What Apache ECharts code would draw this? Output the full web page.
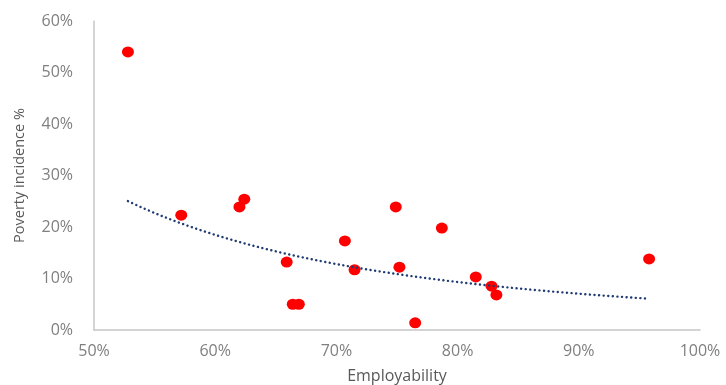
<!DOCTYPE html>
<html>
<head>
<meta charset="utf-8">
<script src="https://cdn.jsdelivr.net/npm/echarts@6/dist/echarts.min.js"></script>
<style>
html,body{margin:0;padding:0;background:#fff;overflow:hidden;}
#chart{width:726px;height:385px;}
</style>
</head>
<body>
<div id="chart"></div>
<script>
// Employability (%) and poverty incidence (%)
var employability = [52.8, 57.2, 62.0, 62.4, 65.9, 66.4, 66.9, 70.7, 71.5, 74.9, 75.2, 76.5, 78.7, 81.5, 82.8, 83.2, 95.8];
var poverty       = [54.0, 22.3, 23.9, 25.4, 13.2,  5.0,  5.0, 17.3, 11.7, 23.9, 12.2,  1.4, 19.8, 10.3,  8.5,  6.8, 13.8];
var xTicks = [50, 60, 70, 80, 90, 100];
var yTicks = [0, 10, 20, 30, 40, 50, 60];

var points = employability.map(function (x, i) { return [x, poverty[i]]; });

// Power trendline (least squares on ln x, ln y), as a spreadsheet trendline does
var n = points.length, mx = 0, my = 0;
points.forEach(function (p) { mx += Math.log(p[0]); my += Math.log(p[1]); });
mx /= n; my /= n;
var sxy = 0, sxx = 0;
points.forEach(function (p) {
  var dx = Math.log(p[0]) - mx, dy = Math.log(p[1]) - my;
  sxy += dx * dy; sxx += dx * dx;
});
var b = sxy / sxx, lnA = my - b * mx;
var xmin = Math.min.apply(null, employability), xmax = Math.max.apply(null, employability);
var trend = [];
var steps = 60;
for (var k = 0; k <= steps; k++) {
  var xv = xmin + (xmax - xmin) * k / steps;
  trend.push([xv, Math.exp(lnA + b * Math.log(xv))]);
}

var chart = echarts.init(document.getElementById('chart'), null, {renderer: 'canvas'});
var labelFont = '"Open Sans", "Noto Sans", sans-serif';
chart.setOption({
  animation: false,
  backgroundColor: '#ffffff',
  grid: {left: 94, right: 26, top: 21, bottom: 55, containLabel: false, outerBoundsMode: 'none'},
  xAxis: {
    type: 'value', min: xTicks[0], max: xTicks[xTicks.length - 1], interval: 10,
    name: 'Employability', nameLocation: 'middle', nameGap: 38,
    nameTextStyle: {color: '#595959', fontSize: 16, fontFamily: labelFont},
    axisLine: {show: true, onZero: false, lineStyle: {color: '#c6c6c6', width: 1.5}},
    axisTick: {show: false},
    splitLine: {show: false},
    axisLabel: {color: '#7f7f7f', fontSize: 16, fontFamily: labelFont, margin: 13,
      formatter: function (v) { return v + '%'; }}
  },
  yAxis: {
    type: 'value', min: yTicks[0], max: yTicks[yTicks.length - 1], interval: 10,
    name: 'Poverty incidence %', nameLocation: 'middle', nameGap: 67, nameRotate: 90,
    nameTextStyle: {color: '#595959', fontSize: 14.5, fontFamily: labelFont},
    axisLine: {show: true, lineStyle: {color: '#c6c6c6', width: 1.5}},
    axisTick: {show: false},
    splitLine: {show: false},
    axisLabel: {color: '#7f7f7f', fontSize: 16, fontFamily: labelFont, margin: 21,
      formatter: function (v) { return v + '%'; }}
  },
  series: [
    {
      type: 'line', data: trend, showSymbol: false, smooth: false, z: 3,
      lineStyle: {color: '#1f3b73', width: 2.4, type: [0.1, 4.5], cap: 'round'}
    },
    {
      type: 'scatter', data: points, symbol: 'circle', symbolSize: [12, 11], z: 2,
      itemStyle: {color: '#ff0000', opacity: 1}
    }
  ]
});
</script>
</body>
</html>
